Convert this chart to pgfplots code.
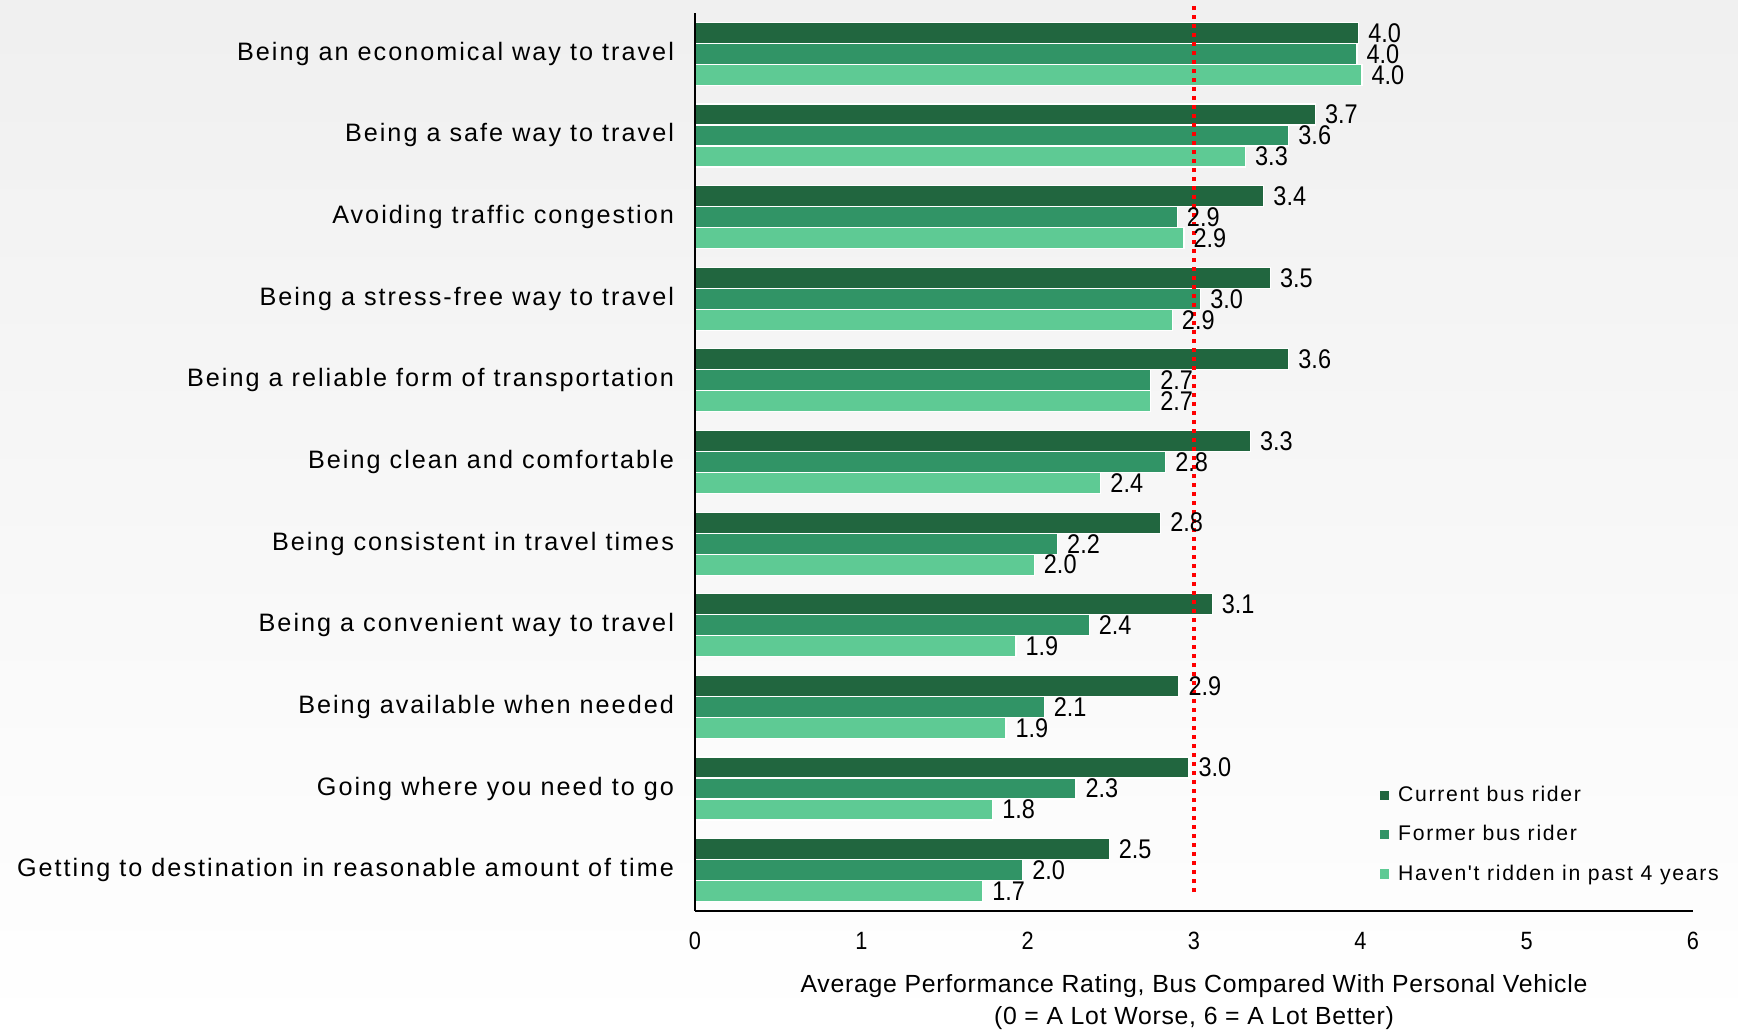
\documentclass[border=0pt]{standalone}
\usepackage{fontspec}
\setmainfont{Liberation Sans}
\newfontfamily\lab{Liberation Sans}[LetterSpace=8]
\newfontfamily\xl{Liberation Sans}[LetterSpace=3]
\newfontfamily\num{Liberation Sans}[FakeStretch=0.87]
\usepackage{pgfplots}
\usepackage{pgfplotstable}
\pgfplotsset{compat=1.18}
\definecolor{cCur}{HTML}{21663F}
\definecolor{cFor}{HTML}{319466}
\definecolor{cHav}{HTML}{5ECA94}
\pgfplotstableread{
y cur for hav
10 3.99 3.98 4.01
9 3.73 3.57 3.31
8 3.42 2.90 2.94
7 3.46 3.04 2.87
6 3.57 2.74 2.74
5 3.34 2.83 2.44
4 2.80 2.18 2.04
3 3.11 2.37 1.93
2 2.91 2.10 1.87
1 2.97 2.29 1.79
0 2.49 1.97 1.73
}\data
\begin{document}
\begin{tikzpicture}
\useasboundingbox (-347.5pt,-60pt) rectangle (521.5pt,455.5pt);
\shade[top color=black!6, bottom color=white] (-347.5pt,-60pt) rectangle (521.5pt,455.5pt);
\begin{axis}[
  at={(0,0)}, anchor=south west,
  width=499pt, height=449pt, scale only axis,
  axis on top,
  xbar, bar width=10.5pt,
  xmin=0, xmax=6, ymin=-0.5, ymax=10.5,
  axis x line=bottom, axis y line=left,
  axis line style={black, line width=0.9pt, -},
  xtick={0,1,2,3,4,5,6},
  xticklabels={0,1,2,3,4,5,6},
  xticklabel style={font=\num\fontsize{12.5}{14}\selectfont, yshift=-7pt},
  ytick={0,...,10},
  yticklabels={Getting to destination in reasonable amount of time,
    Going where you need to go,
    Being available when needed,
    Being a convenient way to travel,
    Being consistent in travel times,
    Being clean and comfortable,
    Being a reliable form of transportation,
    Being a stress-free way to travel,
    Avoiding traffic congestion,
    Being a safe way to travel,
    Being an economical way to travel},
  yticklabel style={font=\lab\fontsize{12.6}{14}\selectfont, xshift=-7pt},
  major tick length=0pt,
  xlabel={Average Performance Rating, Bus Compared With Personal Vehicle\\(0 = A Lot Worse, 6 = A Lot Better)},
  xlabel style={font=\xl\fontsize{12.4}{16}\selectfont, align=center, at={(axis description cs:0.5,0)}, anchor=north, yshift=-28pt},
  /pgf/number format/fixed, /pgf/number format/fixed zerofill,
  /pgf/number format/precision=1, /pgf/number format/assume math mode=true,
  every node near coord/.append style={font=\num\fontsize{13.5}{14}\selectfont, black, inner sep=2pt, xshift=2.5pt},
  legend style={at={(axis description cs:0.686,0.144)}, anchor=north west, draw=none, fill=none,
    font=\lab\fontsize{10.6}{12}\selectfont, row sep=6.5pt, inner sep=0pt},
  legend cell align=left,
  legend image code/.code={\fill[#1,draw=none] (0pt,-2.3pt) rectangle (4.6pt,2.3pt);},
  clip=false,
]
\addplot[fill=cCur, draw=white, line width=0.6pt, bar shift=10.5pt, nodes near coords] table[x=cur, y=y] {\data};
\addplot[fill=cFor, draw=white, line width=0.6pt, bar shift=0pt, nodes near coords] table[x=for, y=y] {\data};
\addplot[fill=cHav, draw=white, line width=0.6pt, bar shift=-10.5pt, nodes near coords] table[x=hav, y=y] {\data};
\legend{\hspace{2.5pt}Current bus rider, \hspace{2.5pt}Former bus rider, \hspace{2.5pt}Haven't ridden in past 4 years}
\addplot[red, line width=2pt, dash pattern=on 2.3pt off 2.2pt, forget plot, sharp plot] coordinates {(3,-0.27) (3,10.6)};
\end{axis}
\end{tikzpicture}
\end{document}
